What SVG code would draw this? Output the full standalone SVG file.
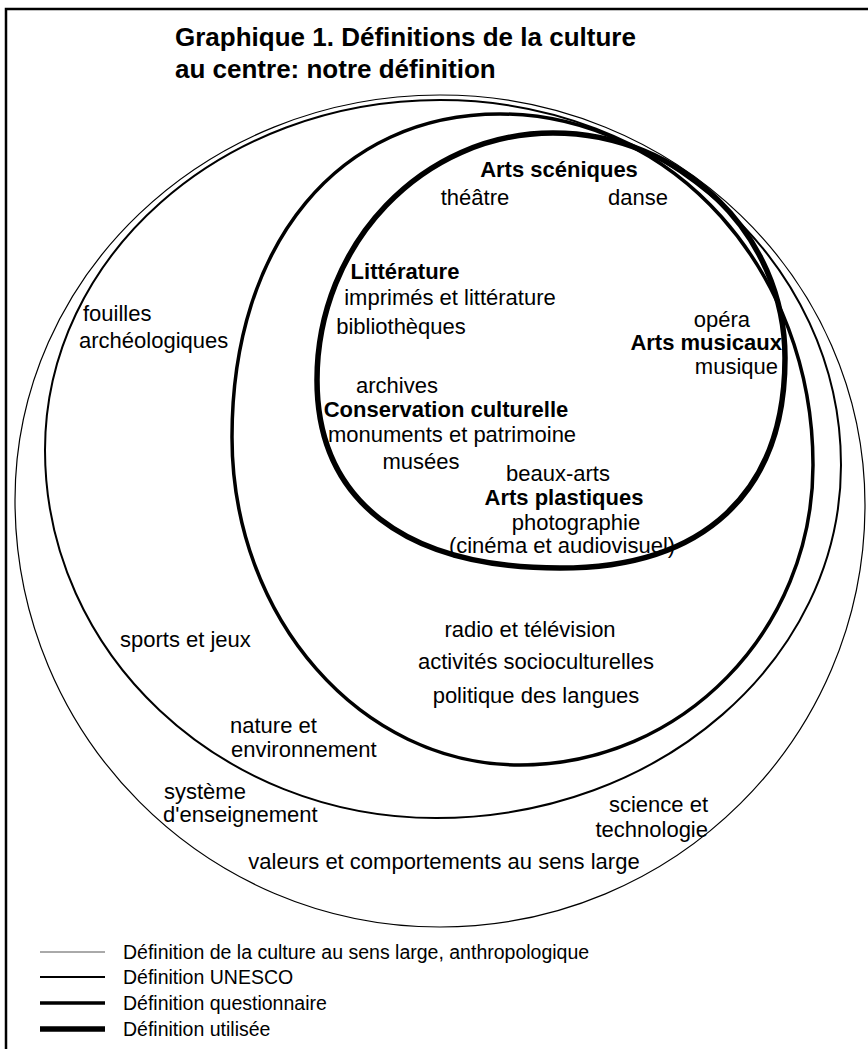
<svg xmlns="http://www.w3.org/2000/svg" width="868" height="1049" viewBox="0 0 868 1049">
<style>
.t{font-family:"Liberation Sans",Arial,Helvetica,sans-serif;font-size:22px;fill:#000}
.b{font-weight:bold}
.m{text-anchor:middle}
.e{text-anchor:end}
.lg{font-size:19.5px}
.ti{font-size:26px;font-weight:bold}
.ring{fill:none;stroke:#000}
.r1{stroke-width:1.2}
.r2{stroke-width:2}
.r3{stroke-width:3.5}
.r4{stroke-width:5.5}
</style>
<rect width="868" height="1049" fill="#fff"/>
<g id="frame" fill="none" stroke="#000" stroke-width="2.5">
<path d="M6 1049 V9 H868"/>
</g>
<g id="title">
<text class="t ti" x="175" y="46">Graphique 1. Définitions de la culture</text>
<text class="t ti" x="175" y="78">au centre: notre définition</text>
</g>
<g id="connectors">
<path id="ring-anthropologique" class="ring r1" d="M15,500 C15,276.3 205.3,95 440,95 C674.7,95 865,278.6 865,505 C865,738.1 674.7,927 440,927 C205.3,927 15,735.8 15,500 Z"/>
<path id="ring-unesco" class="ring r2" d="M45,450 C45,256.7 221.8,100 440,100 C661.5,100 841,263.4 841,465 C841,660 659.7,818 436,818 C220,818 45,653.2 45,450 Z"/>
<path id="ring-questionnaire" class="ring r3" d="M232,437 C232,243.2 339.2,114 500,114 C672.9,114 813,271.1 813,465 C813,630.7 681.8,765 520,765 C360.9,765 232,618.2 232,437 Z"/>
<path id="ring-utilisee" class="ring r4" d="M317,380 C317,243.6 422.7,133 553,133 C681.1,133 785,233.7 785,358 C785,492.4 704,568 560,568 C404.5,568 317,500.3 317,380 Z"/>
</g>
<g id="arts-sceniques">
<text class="t b m" x="559" y="177">Arts scéniques</text>
<text class="t m" x="475" y="205">théâtre</text>
<text class="t m" x="638" y="205">danse</text>
</g>
<g id="litterature">
<text class="t b m" x="405" y="279">Littérature</text>
<text class="t m" x="450" y="305">imprimés et littérature</text>
<text class="t m" x="401" y="334">bibliothèques</text>
</g>
<g id="arts-musicaux">
<text class="t e" x="750" y="327">opéra</text>
<text class="t b e" x="782" y="350">Arts musicaux</text>
<text class="t e" x="778" y="374">musique</text>
</g>
<g id="conservation">
<text class="t m" x="397" y="393">archives</text>
<text class="t b m" x="446" y="417">Conservation culturelle</text>
<text class="t m" x="452" y="442">monuments et patrimoine</text>
<text class="t m" x="421" y="469">musées</text>
</g>
<g id="arts-plastiques">
<text class="t m" x="558" y="481">beaux-arts</text>
<text class="t b m" x="564" y="505">Arts plastiques</text>
<text class="t m" x="576" y="530">photographie</text>
<text class="t m" x="562" y="553">(cinéma et audiovisuel)</text>
</g>
<g id="questionnaire-items">
<text class="t m" x="530" y="637">radio et télévision</text>
<text class="t m" x="536" y="669">activités socioculturelles</text>
<text class="t m" x="536" y="703">politique des langues</text>
</g>
<g id="unesco-items">
<text class="t" x="83" y="321">fouilles</text>
<text class="t" x="79" y="348">archéologiques</text>
<text class="t" x="120" y="647">sports et jeux</text>
<text class="t" x="230" y="733">nature et</text>
<text class="t" x="231" y="757">environnement</text>
</g>
<g id="anthropologique-items">
<text class="t" x="164" y="799">système</text>
<text class="t" x="163" y="822">d'enseignement</text>
<text class="t e" x="708" y="812">science et</text>
<text class="t e" x="708" y="837">technologie</text>
<text class="t m" x="444" y="869">valeurs et comportements au sens large</text>
</g>
<g id="legend">
<line x1="40" y1="952" x2="105" y2="952" stroke="#555" stroke-width="1"/>
<line x1="40" y1="977" x2="105" y2="977" stroke="#000" stroke-width="2"/>
<line x1="40" y1="1003" x2="105" y2="1003" stroke="#000" stroke-width="3.5"/>
<line x1="40" y1="1029" x2="105" y2="1029" stroke="#000" stroke-width="5.5"/>
<text class="t lg" x="123" y="959">Définition de la culture au sens large, anthropologique</text>
<text class="t lg" x="123" y="984">Définition UNESCO</text>
<text class="t lg" x="123" y="1010">Définition questionnaire</text>
<text class="t lg" x="123" y="1036">Définition utilisée</text>
</g>
</svg>
